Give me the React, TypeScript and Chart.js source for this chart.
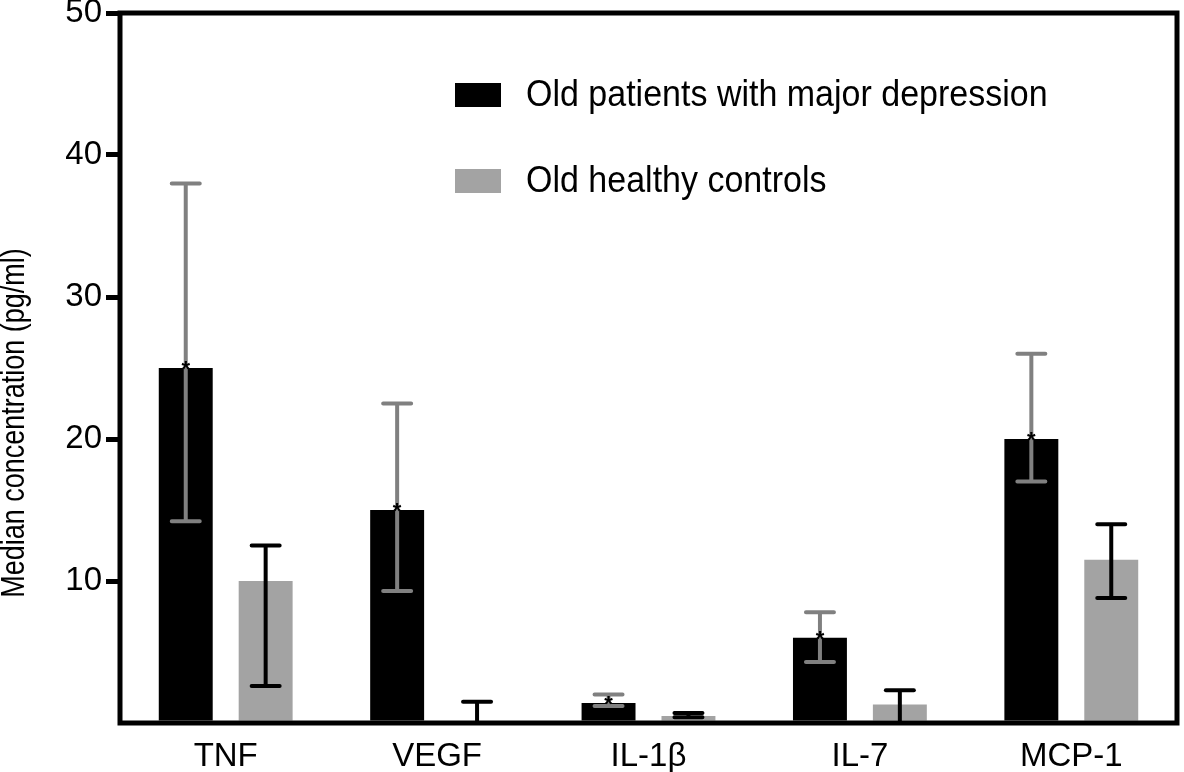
import React, { useEffect, useRef } from "react";
import { Chart, registerables } from "chart.js";

Chart.register(...registerables);

const categories = ["TNF", "VEGF", "IL-1β", "IL-7", "MCP-1"];
const depressed = [25, 15, 1.4, 6, 20];
const depressedLow = [14.2, 9.3, 1.2, 4.3, 17];
const depressedHigh = [38, 22.5, 2.0, 7.8, 26];
const controls = [10, 0, 0.5, 1.3, 11.5];
const controlsLow = [2.6, 0, 0.4, 0, 8.8];
const controlsHigh = [12.5, 1.5, 0.7, 2.3, 14];
const yTicks = [0, 10, 20, 30, 40, 50];

const seriesNames = ["Old patients with major depression", "Old healthy controls"];
const FONT = "'Liberation Sans', Arial, Helvetica, sans-serif";

const overlayPlugin = {
  id: "overlay",
  afterDatasetsDraw(chart: any) {
    const ctx = chart.ctx;
    const y = chart.scales.y;
    const area = chart.chartArea;
    const errs = [
      { low: depressedLow, high: depressedHigh, color: "#808080" },
      { low: controlsLow, high: controlsHigh, color: "#000000" },
    ];
    ctx.save();
    errs.forEach((e, di) => {
      const meta = chart.getDatasetMeta(di);
      meta.data.forEach((bar: any, i: number) => {
        const x = bar.x;
        const yl = y.getPixelForValue(e.low[i]);
        const yh = y.getPixelForValue(e.high[i]);
        ctx.strokeStyle = e.color;
        ctx.lineWidth = 4;
        ctx.lineCap = "butt";
        ctx.beginPath();
        ctx.moveTo(x, yl);
        ctx.lineTo(x, yh);
        ctx.stroke();
        ctx.lineCap = "round";
        ctx.beginPath();
        ctx.moveTo(x - 14, yh);
        ctx.lineTo(x + 14, yh);
        if (e.low[i] > 0) {
          ctx.moveTo(x - 14, yl);
          ctx.lineTo(x + 14, yl);
        }
        ctx.stroke();
      });
    });
    // asterisks
    const meta0 = chart.getDatasetMeta(0);
    ctx.fillStyle = "#000";
    ctx.font = `bold 22px ${FONT}`;
    ctx.textAlign = "center";
    ctx.textBaseline = "middle";
    meta0.data.forEach((bar: any) => {
      ctx.fillText("*", bar.x, bar.y + 2);
    });
    // frame
    ctx.strokeStyle = "#000";
    ctx.lineWidth = 5;
    ctx.lineCap = "square";
    ctx.strokeRect(area.left, area.top, area.right - area.left, area.bottom - area.top);
    // legend
    const colors = ["#000000", "#a3a3a3"];
    const rows = [95, 181];
    ctx.textAlign = "left";
    ctx.textBaseline = "middle";
    rows.forEach((ry, k) => {
      ctx.fillStyle = colors[k];
      ctx.fillRect(455, ry - 12, 46, 24);
      ctx.fillStyle = "#000";
      ctx.save();
      ctx.translate(526, ry + 1);
      ctx.scale(1, 1.1);
      ctx.font = `34px ${FONT}`;
      ctx.fillText(seriesNames[k], 0, 0);
      ctx.restore();
    });
    // y title
    ctx.save();
    ctx.translate(15, 423);
    ctx.rotate(-Math.PI / 2);
    ctx.scale(1, 1.2);
    ctx.font = `27px ${FONT}`;
    ctx.textAlign = "center";
    ctx.textBaseline = "middle";
    ctx.fillText("Median concentration (pg/ml)", 0, 0);
    ctx.restore();
    ctx.restore();
  },
};

export default function App() {
  const ref = useRef<HTMLCanvasElement>(null);
  useEffect(() => {
    document.body.style.margin = "0";
    const chart = new Chart(ref.current as HTMLCanvasElement, {
      type: "bar",
      data: {
        labels: categories,
        datasets: [
          {
            label: seriesNames[0],
            data: depressed,
            backgroundColor: "#000000",
            categoryPercentage: 0.756,
            barPercentage: 0.675,
          },
          {
            label: seriesNames[1],
            data: controls,
            backgroundColor: "#a3a3a3",
            categoryPercentage: 0.756,
            barPercentage: 0.675,
          },
        ],
      },
      options: {
        responsive: false,
        animation: false,
        layout: { padding: { top: 13, right: 7, left: 0, bottom: 0 } },
        plugins: { legend: { display: false }, tooltip: { enabled: false } },
        scales: {
          x: {
            grid: { display: false },
            border: { display: false },
            ticks: {
              color: "#000",
              font: { family: FONT, size: 33 },
              padding: 6,
              maxRotation: 0,
            },
            afterFit: (s: any) => {
              s.height = 49;
              s.paddingLeft = 0;
              s.paddingRight = 0;
            },
          },
          y: {
            min: 0,
            max: 50,
            afterBuildTicks: (s: any) => {
              s.ticks = yTicks.map((v) => ({ value: v }));
            },
            grid: {
              drawOnChartArea: false,
              drawTicks: true,
              tickLength: 14,
              lineWidth: 5,
              color: (c: any) => (c.tick && c.tick.value === 0 ? "rgba(0,0,0,0)" : "#000"),
            },
            border: { display: false },
            ticks: {
              color: "#000",
              font: { family: FONT, size: 33 },
              padding: 4,
              callback: (v: any) => (v === 0 ? "" : String(v)),
            },
            afterFit: (s: any) => {
              s.width = 120;
              s.paddingTop = 0;
              s.paddingBottom = 0;
            },
          },
        },
      },
      plugins: [overlayPlugin],
    });
    return () => chart.destroy();
  }, []);
  return (
    <div style={{ width: 1184, height: 772, background: "#fff" }}>
      <canvas ref={ref} width={1184} height={772} style={{ display: "block" }} />
    </div>
  );
}
